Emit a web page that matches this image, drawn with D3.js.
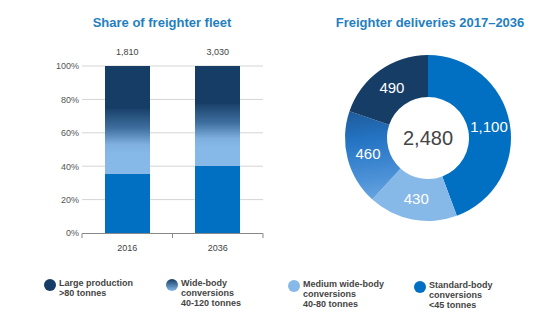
<!DOCTYPE html>
<html>
<head>
<meta charset="utf-8">
<script src="https://cdn.jsdelivr.net/npm/d3@7"></script>
<style>
  body { margin: 0; background: #fff; }
  svg { font-family: "Liberation Sans", Arial, sans-serif; }
</style>
</head>
<body>
<svg id="chart" width="559" height="334"></svg>
<script>
// bar chart data (share of fleet, %)
const years = ['2016', '2036'];
const fleetTotals = ['1,810', '3,030'];
const standardShare = [36, 41];
const mediumShare = [12, 11];
const wideShare = [27, 26];
const largeShare = [25, 22];
const yTicks = [0, 20, 40, 60, 80, 100];

// donut data (deliveries 2017-2036)
const deliveryLabels = ['Standard-body', 'Medium wide-body', 'Wide-body', 'Large production'];
const deliveryValues = [1100, 430, 460, 490];
const deliveryTotal = '2,480';

const legendLines = [
    ['Large production', '>80 tonnes'],
    ['Wide-body', 'conversions', '40-120 tonnes'],
    ['Medium wide-body', 'conversions', '40-80 tonnes'],
    ['Standard-body', 'conversions', '<45 tonnes']
];

const colDark = '#163d66';
const colLight = '#86b9e8';
const colStd = '#0270c2';
const titleColor = '#1f7fc2';

const svg = d3.select('#chart');
const defs = svg.append('defs');

// gradient used in the bars for the wide-body segment
const barGrad = defs.append('linearGradient')
    .attr('id', 'barGrad').attr('x1', 0).attr('y1', 1).attr('x2', 0).attr('y2', 0);
barGrad.append('stop').attr('offset', '0%').attr('stop-color', colLight);
barGrad.append('stop').attr('offset', '20%').attr('stop-color', '#7fb0e0');
barGrad.append('stop').attr('offset', '55%').attr('stop-color', '#3f6f9f');
barGrad.append('stop').attr('offset', '100%').attr('stop-color', colDark);

const legGrad = defs.append('linearGradient')
    .attr('id', 'legGrad').attr('x1', 0).attr('y1', 0).attr('x2', 0).attr('y2', 1);
legGrad.append('stop').attr('offset', '0%').attr('stop-color', colDark);
legGrad.append('stop').attr('offset', '100%').attr('stop-color', colLight);

// ---- bar chart ----
const y = d3.scaleLinear().domain([0, 100]).range([233, 66]);
const x = d3.scaleBand().domain(years).range([82, 263]).paddingInner(0.5).paddingOuter(0.25);

svg.append('text')
    .attr('x', 162).attr('y', 27)
    .attr('text-anchor', 'middle')
    .attr('fill', titleColor)
    .attr('font-weight', 'bold')
    .attr('font-size', '13px')
    .text('Share of freighter fleet');

const grid = svg.append('g');
grid.selectAll('line')
    .data(yTicks.slice(1))
    .enter().append('line')
    .attr('x1', 82).attr('x2', 263)
    .attr('y1', d => y(d)).attr('y2', d => y(d))
    .attr('stroke', '#d4d4d4').attr('stroke-width', 1);

const yAxis = d3.axisLeft(y).tickValues(yTicks).tickFormat(d => d + '%').tickSize(0).tickPadding(3);
svg.append('g')
    .attr('transform', 'translate(82,0)')
    .call(yAxis)
    .call(g => g.select('.domain').remove())
    .selectAll('text')
    .attr('fill', '#555').attr('font-size', '9px');

const stackData = years.map((yr, i) => ({
    year: yr,
    standard: standardShare[i],
    medium: mediumShare[i],
    wide: wideShare[i],
    large: largeShare[i]
}));
const keys = ['standard', 'medium', 'wide', 'large'];
const fills = {standard: colStd, medium: colLight, wide: 'url(#barGrad)', large: colDark};
const series = d3.stack().keys(keys)(stackData);

svg.append('g').selectAll('g')
    .data(series)
    .enter().append('g')
    .attr('fill', d => fills[d.key])
    .selectAll('rect')
    .data(d => d)
    .enter().append('rect')
    .attr('shape-rendering', 'crispEdges')
    .attr('x', d => x(d.data.year))
    .attr('width', x.bandwidth())
    .attr('y', d => Math.floor(y(d[1])))
    .attr('height', d => Math.ceil(y(d[0]) - Math.floor(y(d[1]))) + 1);

// x axis line with separator ticks
const step = x.step();
const sepTicks = [x.range()[0], x(years[0]) + x.bandwidth() + step * x.paddingInner() / 2, x.range()[1]];
svg.append('line')
    .attr('x1', 82).attr('x2', 263).attr('y1', 233.5).attr('y2', 233.5)
    .attr('stroke', '#888');
svg.append('g').selectAll('line')
    .data(sepTicks)
    .enter().append('line')
    .attr('x1', d => d).attr('x2', d => d)
    .attr('y1', 233.5).attr('y2', 238)
    .attr('stroke', '#888');

svg.append('g').selectAll('text')
    .data(years)
    .enter().append('text')
    .attr('x', d => x(d) + x.bandwidth() / 2)
    .attr('y', 251)
    .attr('text-anchor', 'middle')
    .attr('fill', '#444').attr('font-size', '9px')
    .text(d => d);

svg.append('g').selectAll('text')
    .data(years)
    .enter().append('text')
    .attr('x', d => x(d) + x.bandwidth() / 2)
    .attr('y', 55)
    .attr('text-anchor', 'middle')
    .attr('fill', '#444').attr('font-size', '9px')
    .text((d, i) => fleetTotals[i]);

// ---- donut ----
const cx = 428, cy = 138;
svg.append('text')
    .attr('x', 430).attr('y', 27)
    .attr('text-anchor', 'middle')
    .attr('fill', titleColor)
    .attr('font-weight', 'bold')
    .attr('font-size', '13px')
    .text('Freighter deliveries 2017\u20132036');

// gradient coordinates are relative to the donut centre
const donutGrad = defs.append('linearGradient')
    .attr('id', 'donutGrad')
    .attr('gradientUnits', 'userSpaceOnUse')
    .attr('x1', -20).attr('y1', 80)
    .attr('x2', -40).attr('y2', -70);
donutGrad.append('stop').attr('offset', '0%').attr('stop-color', colLight);
donutGrad.append('stop').attr('offset', '30%').attr('stop-color', '#4a90d6');
donutGrad.append('stop').attr('offset', '55%').attr('stop-color', '#2474c4');
donutGrad.append('stop').attr('offset', '100%').attr('stop-color', colDark);

const donutFills = [colStd, colLight, 'url(#donutGrad)', colDark];

const pie = d3.pie().value(d => d).sort(null);
const arc = d3.arc().innerRadius(41).outerRadius(83);
const arcs = pie(deliveryValues);

const dg = svg.append('g').attr('transform', `translate(${cx},${cy})`);
dg.selectAll('path')
    .data(arcs)
    .enter().append('path')
    .attr('d', arc)
    .attr('fill', (d, i) => donutFills[i]);

dg.selectAll('text.val')
    .data(arcs)
    .enter().append('text')
    .attr('class', 'val')
    .attr('transform', d => `translate(${arc.centroid(d)})`)
    .attr('dy', '0.35em')
    .attr('text-anchor', 'middle')
    .attr('fill', '#fff')
    .attr('font-size', '15px')
    .text(d => d3.format(',')(d.data));

dg.append('text')
    .attr('dy', '0.35em')
    .attr('text-anchor', 'middle')
    .attr('fill', '#444')
    .attr('font-size', '20px')
    .text(deliveryTotal);

// ---- legend ----
const legX = [50, 172, 294, 420];
const legY = [285, 285, 286, 287];
const legFills = [colDark, 'url(#legGrad)', colLight, colStd];

const leg = svg.append('g').selectAll('g')
    .data(legendLines)
    .enter().append('g')
    .attr('transform', (d, i) => `translate(${legX[i]},${legY[i]})`);

leg.append('circle')
    .attr('r', 6)
    .attr('fill', (d, i) => legFills[i]);

leg.append('text')
    .attr('x', 9)
    .attr('y', 0)
    .attr('fill', '#444')
    .attr('font-size', '9px')
    .attr('font-weight', 'bold')
    .selectAll('tspan')
    .data(d => d)
    .enter().append('tspan')
    .attr('x', 9)
    .attr('dy', (d, i) => i === 0 ? '0.1em' : '10px')
    .text(d => d);
</script>
</body>
</html>
